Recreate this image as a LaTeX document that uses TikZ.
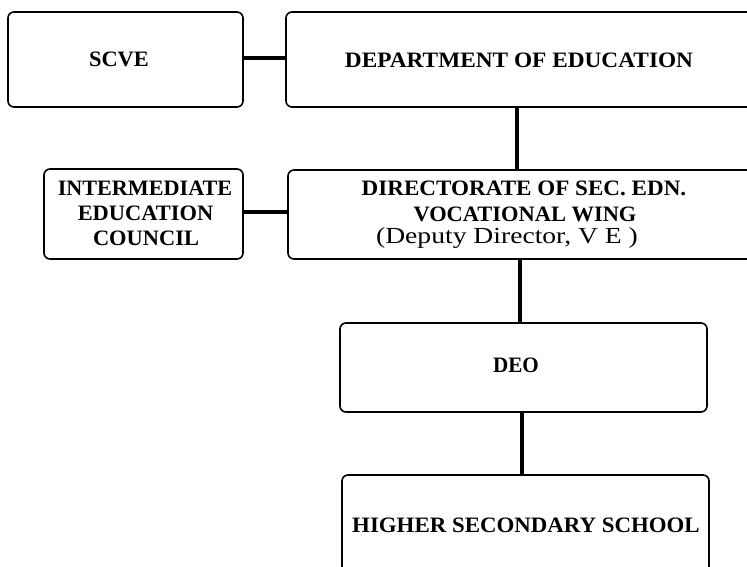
\documentclass[tikz,border=0pt]{standalone}
\usepackage{fontspec}
\setmainfont{Liberation Serif}
\usepackage{graphicx}
\begin{document}
\begin{tikzpicture}[x=1pt,y=-1pt,
  box/.style={draw=black, line width=1.6pt, rounded corners=6pt, inner sep=0pt},
  txt/.style={inner sep=0pt, anchor=base, font=\fontsize{22}{25}\selectfont\bfseries},
  txtr/.style={inner sep=0pt, anchor=base, font=\fontsize{23}{25}\selectfont},
  conn/.style={draw=black, line width=3.2pt}]
\useasboundingbox (0,0) rectangle (747,566);
\clip (0,0) rectangle (747,566);
% boxes
\node[box, minimum width=235pt, minimum height=95pt] (scve) at (125.5,59.5) {};
\node[box, minimum width=474pt, minimum height=95pt] (doe) at (523,59.5) {};
\node[box, minimum width=199pt, minimum height=90pt] (iec) at (143.5,214) {};
\node[box, minimum width=472pt, minimum height=89pt] (dir) at (524,214.5) {};
\node[box, minimum width=367pt, minimum height=89pt] (deo) at (523.5,367.5) {};
\node[box, minimum width=367pt, minimum height=115pt] (hss) at (525.5,532.5) {};
% texts
\node[txt] (tscve) at (119,66) {\scalebox{1.02}[1]{SCVE}};
\node[txt] (tdoe) at (519,67) {\scalebox{1.06}[1]{DEPARTMENT OF EDUCATION}};
\node[txt] (tiec1) at (145,195) {\scalebox{1.007}[1]{INTERMEDIATE}};
\node[txt] (tiec2) at (145.5,220) {\scalebox{1.02}[1]{EDUCATION}};
\node[txt] (tiec3) at (146,245) {\scalebox{1.02}[1]{COUNCIL}};
\node[txt] (tdir1) at (524,195) {\scalebox{1.05}[1]{DIRECTORATE OF SEC. EDN.}};
\node[txt] (tdir2) at (525,221) {\scalebox{1.02}[1]{VOCATIONAL WING}};
\node[txtr] (tdir3) at (507,243) {\scalebox{1.2}[1]{(Deputy Director, V E )}};
\node[txt] (tdeo) at (516,372) {\scalebox{0.96}[1]{DEO}};
\node[txt] (thss) at (526,532) {\scalebox{1.04}[1]{HIGHER SECONDARY SCHOOL}};
% connector positions
\coordinate (h1) at (0,58);
\coordinate (h2) at (0,212);
\coordinate (v1) at (517,0);
\coordinate (v2) at (520,0);
\coordinate (v3) at (522,0);
% connectors
\draw[conn] (scve.east |- h1) -- (doe.west |- h1);
\draw[conn] (iec.east |- h2) -- (dir.west |- h2);
\draw[conn] (doe.south -| v1) -- (dir.north -| v1);
\draw[conn] (dir.south -| v2) -- (deo.north -| v2);
\draw[conn] (deo.south -| v3) -- (hss.north -| v3);
\end{tikzpicture}
\end{document}
